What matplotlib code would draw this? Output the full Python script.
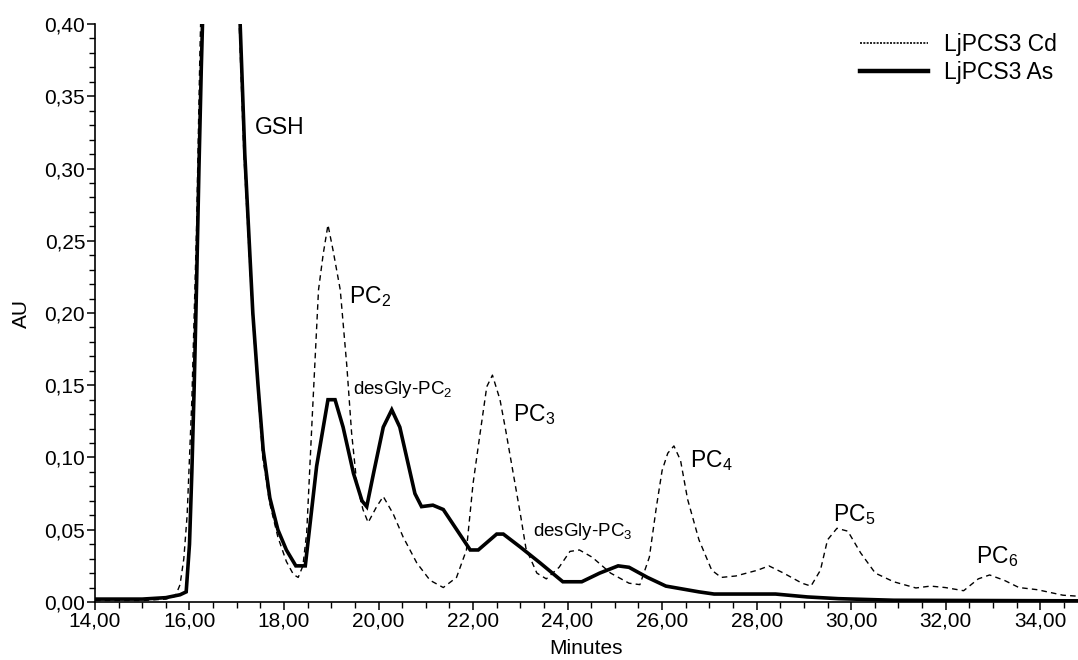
"""
plot.py
HPLC chromatogram of LjPCS3 products (Cd vs As) — GSH and phytochelatins.
"""

import matplotlib
matplotlib.use('Agg')
import matplotlib.pyplot as plt
from matplotlib.lines import Line2D
from matplotlib.ticker import MultipleLocator, FuncFormatter

# ── Data (minutes, AU) ─────────────────────────────────
cd_time = [14.0, 15.0, 15.5, 15.7, 15.8, 15.88, 15.95, 16.05, 16.15, 16.22,
           16.28, 16.5, 16.7, 16.9, 17.03, 17.15, 17.33, 17.44, 17.55, 17.7,
           17.87, 18.05, 18.2, 18.3, 18.4, 18.48, 18.6, 18.73, 18.83, 18.93,
           19.04, 19.19, 19.33, 19.43, 19.54, 19.67, 19.78, 19.96, 20.10, 20.31,
           20.52, 20.81, 21.09, 21.37, 21.65, 21.86, 22.0, 22.15, 22.29, 22.41,
           22.57, 22.69, 22.85, 23.0, 23.12, 23.35, 23.55, 23.82, 24.05, 24.25,
           24.52, 24.91, 25.3, 25.53, 25.73, 25.88, 26.0, 26.12, 26.25, 26.39,
           26.54, 26.78, 27.05, 27.25, 27.56, 28.02, 28.26, 28.57, 28.96, 29.15,
           29.35, 29.5, 29.7, 29.93, 30.2, 30.51, 30.9, 31.37, 31.68, 31.99,
           32.38, 32.69, 32.93, 33.24, 33.55, 33.94, 34.48, 34.8]
cd_au   = [0.001, 0.001, 0.002, 0.004, 0.012, 0.03, 0.06, 0.14, 0.26, 0.38,
           0.46, 0.65, 0.70, 0.58, 0.42, 0.31, 0.20, 0.15, 0.10, 0.068,
           0.045, 0.028, 0.019, 0.017, 0.025, 0.048, 0.13, 0.216, 0.241, 0.261,
           0.243, 0.216, 0.163, 0.117, 0.082, 0.064, 0.055, 0.066, 0.073, 0.061,
           0.045, 0.027, 0.015, 0.010, 0.017, 0.036, 0.082, 0.117, 0.149, 0.157,
           0.140, 0.119, 0.089, 0.061, 0.037, 0.020, 0.016, 0.024, 0.035, 0.036,
           0.031, 0.020, 0.013, 0.012, 0.031, 0.066, 0.091, 0.103, 0.108, 0.098,
           0.071, 0.043, 0.022, 0.017, 0.018, 0.022, 0.025, 0.020, 0.013, 0.011,
           0.022, 0.043, 0.051, 0.049, 0.034, 0.020, 0.014, 0.0097, 0.011, 0.010,
           0.0078, 0.016, 0.0187, 0.015, 0.010, 0.0085, 0.0047, 0.004]

as_time = [14.0, 14.5, 15.0, 15.5, 15.8, 15.93, 16.0, 16.05, 16.1, 16.15,
           16.2, 16.25, 16.3, 16.5, 16.7, 16.9, 17.05, 17.17, 17.34, 17.45,
           17.56, 17.7, 17.87, 18.05, 18.25, 18.45, 18.69, 18.93, 19.08, 19.25,
           19.47, 19.65, 19.75, 19.9, 20.10, 20.28, 20.45, 20.77, 20.91, 21.15,
           21.37, 21.94, 22.11, 22.5, 22.64, 23.0, 23.42, 23.9, 24.3, 24.68,
           25.07, 25.3, 25.69, 26.08, 26.78, 27.1, 28.4, 29.07, 29.73, 30.9, 34.8]
as_au   = [0.002, 0.002, 0.002, 0.003, 0.005, 0.007, 0.04, 0.09, 0.15, 0.22,
           0.30, 0.37, 0.43, 0.62, 0.68, 0.58, 0.42, 0.31, 0.20, 0.15,
           0.105, 0.072, 0.050, 0.036, 0.025, 0.025, 0.094, 0.140, 0.140, 0.121,
           0.089, 0.070, 0.066, 0.090, 0.121, 0.133, 0.121, 0.075, 0.066, 0.067,
           0.064, 0.036, 0.036, 0.047, 0.047, 0.038, 0.027, 0.014, 0.014, 0.020,
           0.025, 0.024, 0.017, 0.011, 0.007, 0.0055, 0.0055, 0.0035, 0.0023, 0.0012, 0.0008]

# peak labels: text, x, y (baseline), font size
peak_labels = ['GSH', 'PC$_\\mathregular{2}$', 'desGly-PC$_\\mathregular{2}$',
               'PC$_\\mathregular{3}$', 'desGly-PC$_\\mathregular{3}$',
               'PC$_\\mathregular{4}$', 'PC$_\\mathregular{5}$', 'PC$_\\mathregular{6}$']
label_x     = [17.39, 19.38, 19.45, 22.85, 23.26, 26.58, 29.62, 32.65]
label_y     = [0.324, 0.207, 0.1436, 0.1254, 0.046, 0.0936, 0.056, 0.0272]
label_size  = [16.5, 16.5, 13.5, 16.5, 13.5, 16.5, 16.5, 16.5]
# ───────────────────────────────────────────────────────

plt.rcParams['font.family'] = ['Liberation Sans', 'DejaVu Sans']
plt.rcParams['mathtext.fontset'] = 'custom'
plt.rcParams['mathtext.rm'] = 'Liberation Sans'

fig = plt.figure(figsize=(10.78, 6.60), dpi=100)
ax = fig.add_axes([0.0881, 0.0879, 0.9119, 0.8757])

ax.plot(cd_time, cd_au, color='black', lw=1.0, linestyle=(0, (4, 3)))
ax.plot(as_time, as_au, color='black', lw=2.6, solid_joinstyle='miter')

for txt, x, y, fs in zip(peak_labels, label_x, label_y, label_size):
    ax.text(x, y, txt, fontsize=fs, va='baseline', ha='left')

# axes look
ax.set_xlim(14, 34.8)
ax.set_ylim(0, 0.40)
ax.spines['top'].set_visible(False)
ax.spines['right'].set_visible(False)
for s in ('left', 'bottom'):
    ax.spines[s].set_linewidth(1.2)

fmt = FuncFormatter(lambda v, p: f'{v:.2f}'.replace('.', ','))
ax.xaxis.set_major_locator(MultipleLocator(2))
ax.xaxis.set_minor_locator(MultipleLocator(0.5))
ax.yaxis.set_major_locator(MultipleLocator(0.05))
ax.yaxis.set_minor_locator(MultipleLocator(0.01))
ax.xaxis.set_major_formatter(fmt)
ax.yaxis.set_major_formatter(fmt)
ax.tick_params(which='major', direction='out', length=6, width=1.1,
               labelsize=15, pad=1)
ax.tick_params(which='minor', direction='out', length=4, width=1.0)

ax.set_xlabel('Minutes', fontsize=15, labelpad=6)
ax.set_ylabel('AU', fontsize=15, labelpad=10)

handles = [Line2D([], [], color='black', lw=1.2, linestyle=(0, (1.2, 0.8))),
           Line2D([], [], color='black', lw=3.2)]
ax.legend(handles, ['LjPCS3 Cd', 'LjPCS3 As'], loc='upper right',
          bbox_to_anchor=(1.0, 1.02), frameon=False, fontsize=16.5,
          handlelength=3.0, handletextpad=0.7, labelspacing=0.2)

fig.savefig('out.png', dpi=100)
